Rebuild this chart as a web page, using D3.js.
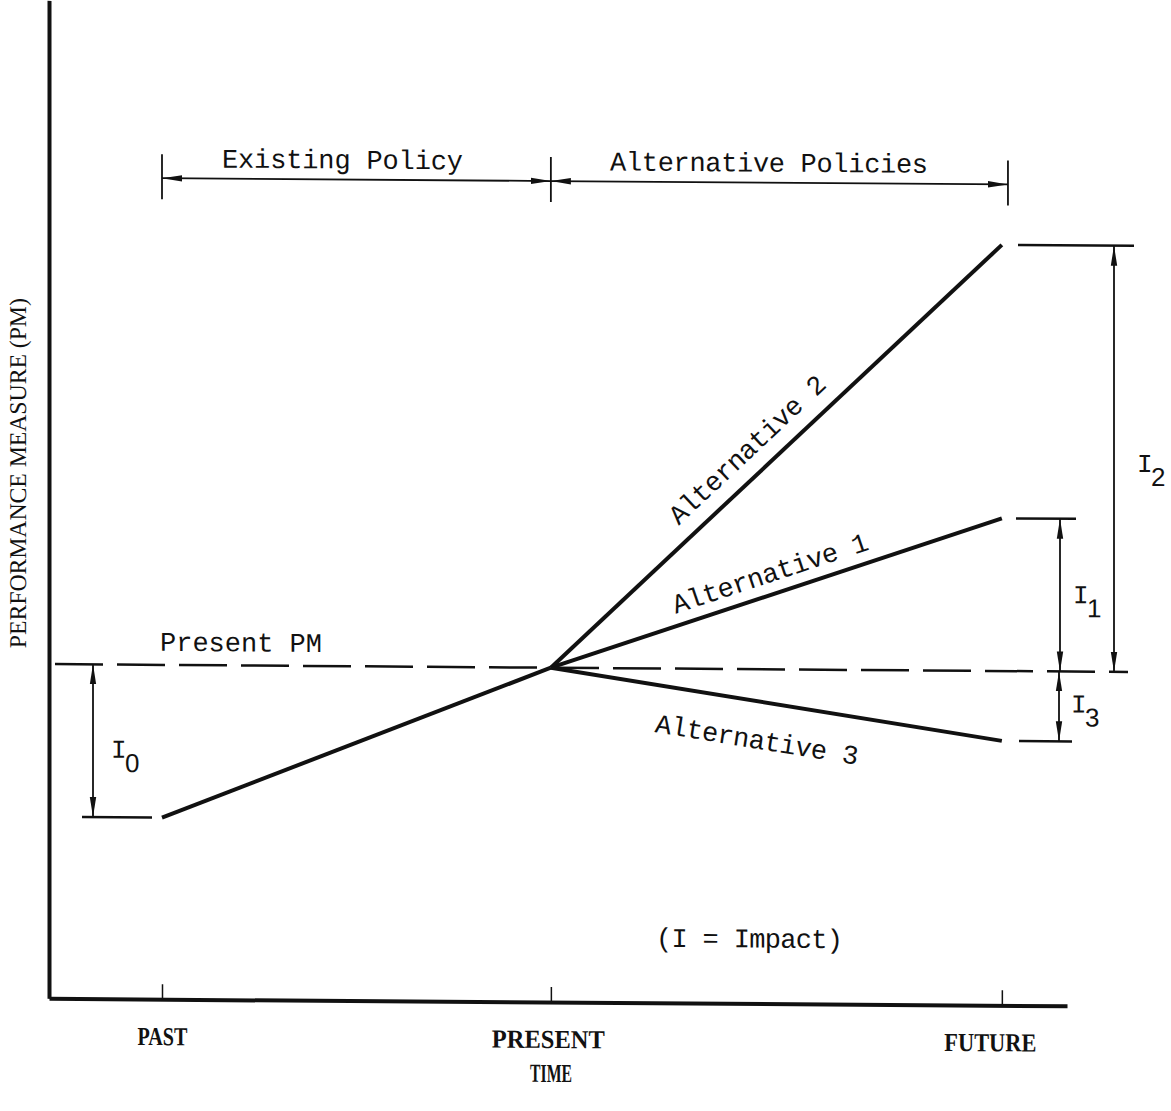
<!DOCTYPE html>
<html lang="en">
<head>
<meta charset="UTF-8">
<script src="https://d3js.org/d3.v7.min.js"></script>
<title>Policy impact</title>
<style>
  body { margin: 0; background: #fff; }
  .mono { font-family: "Liberation Mono", "DejaVu Sans Mono", monospace; fill: #111; }
  .serif { font-family: "Liberation Serif", "DejaVu Serif", serif; fill: #111; }
  .sans { font-family: "Liberation Sans", "DejaVu Sans", sans-serif; fill: #111; }
</style>
</head>
<body>
<svg id="chart" width="1171" height="1111"></svg>
<script>
// time axis (positions on a 0-100 time scale)
const timeLabels = ["PAST", "PRESENT", "FUTURE"];
const timePos = [11.1, 49.3, 93.6];

// performance measure values (0-100)
const pastPM = 18.2;
const presentPM = 33.5;
const altNames = ["Alternative 1", "Alternative 2", "Alternative 3"];
const altPM = [48.8, 76.2, 26.5];

// impact labels: I0 = existing policy, I1..I3 = alternatives
const impactNames = ["0", "1", "2", "3"];

const svg = d3.select("#chart");
const ink = "#111";

// scanned page is slightly skewed, horizontals drop to the right
const g = svg.append("g").attr("transform", "skewY(0.42)");

const x = d3.scaleLinear().domain([0, 100]).range([49, 1067]);
const y = d3.scaleLinear().domain([0, 100]).range([998, 0]);

const defs = svg.append("defs");
defs.append("marker")
    .attr("id", "arr")
    .attr("viewBox", "0 -4 20 8")
    .attr("refX", 20).attr("refY", 0)
    .attr("markerWidth", 20).attr("markerHeight", 8)
    .attr("markerUnits", "userSpaceOnUse")
    .attr("orient", "auto-start-reverse")
    .append("path").attr("d", "M0,-3.2L20,0L0,3.2Z").attr("fill", ink);

// axes
const xAxis = g.append("g").attr("transform", `translate(0,${y(0)})`)
    .call(d3.axisBottom(x).tickValues(timePos).tickSizeInner(-15).tickSizeOuter(0)
        .tickFormat((d, i) => timeLabels[i]));
xAxis.select(".domain").attr("stroke", ink).attr("stroke-width", 4);
xAxis.selectAll(".tick line").attr("stroke", ink).attr("stroke-width", 1.5);
const labelShift = [0, -3, -12];
const labelWidth = [50, 113, 92];
xAxis.selectAll(".tick text")
    .attr("class", "serif")
    .attr("font-size", 26).attr("font-weight", "bold")
    .attr("dy", null).attr("y", 46)
    .attr("x", (d, i) => labelShift[i])
    .attr("textLength", (d, i) => labelWidth[i])
    .attr("lengthAdjust", "spacingAndGlyphs");

const yAxis = g.append("g").attr("transform", `translate(${x(0)},0)`)
    .call(d3.axisLeft(y).tickValues([]).tickSizeOuter(0));
yAxis.select(".domain").attr("stroke", ink).attr("stroke-width", 4);

g.append("text").attr("class", "serif")
    .attr("x", 551).attr("y", 1078).attr("text-anchor", "middle")
    .attr("font-size", 26).attr("font-weight", "bold")
    .attr("textLength", 42).attr("lengthAdjust", "spacingAndGlyphs")
    .text("TIME");

g.append("text").attr("class", "serif")
    .attr("transform", "translate(26,473) rotate(-90)")
    .attr("text-anchor", "middle").attr("font-size", 24)
    .attr("textLength", 350).attr("lengthAdjust", "spacingAndGlyphs")
    .text("PERFORMANCE MEASURE (PM)");

// present PM dashed reference
g.append("line")
    .attr("x1", 55).attr("x2", 1128)
    .attr("y1", y(presentPM)).attr("y2", y(presentPM))
    .attr("stroke", ink).attr("stroke-width", 2.5)
    .attr("stroke-dasharray", "48,14");
g.append("text").attr("class", "mono")
    .attr("x", 160).attr("y", y(presentPM) - 14)
    .attr("font-size", 27).attr("textLength", 162)
    .text("Present PM");

// policy span dimension lines
const spanY = 177;
const spans = [
    { label: "Existing Policy", from: timePos[0], to: timePos[1], tx: 222, w: 241 },
    { label: "Alternative Policies", from: timePos[1], to: 94.2, tx: 610, w: 318 }
];
const spanTicks = [timePos[0], timePos[1], 94.2];
g.selectAll("line.spantick").data(spanTicks).join("line")
    .attr("class", "spantick")
    .attr("x1", d => x(d)).attr("x2", d => x(d))
    .attr("y1", spanY - 24).attr("y2", spanY + 21)
    .attr("stroke", ink).attr("stroke-width", 1.8);
g.selectAll("line.span").data(spans).join("line")
    .attr("class", "span")
    .attr("x1", d => x(d.from)).attr("x2", d => x(d.to))
    .attr("y1", spanY).attr("y2", spanY)
    .attr("stroke", ink).attr("stroke-width", 1.8)
    .attr("marker-start", "url(#arr)").attr("marker-end", "url(#arr)");
g.selectAll("text.span").data(spans).join("text")
    .attr("class", "span mono")
    .attr("x", d => d.tx).attr("y", spanY - 11)
    .attr("font-size", 27)
    .attr("textLength", d => d.w)
    .text(d => d.label);

// existing policy trend
const line = d3.line().x(d => x(d[0])).y(d => y(d[1]));
g.append("path")
    .attr("d", line([[timePos[0], pastPM], [timePos[1], presentPM]]))
    .attr("fill", "none").attr("stroke", ink).attr("stroke-width", 4);

// alternatives
const alts = altNames.map((name, i) => ({ name, pm: altPM[i] }));
g.selectAll("path.alt").data(alts).join("path")
    .attr("class", "alt")
    .attr("d", d => line([[timePos[1], presentPM], [timePos[2], d.pm]]))
    .attr("fill", "none").attr("stroke", ink).attr("stroke-width", 4);

// label placement along each alternative line: distance, offset above line
const altLabelPos = [[136, 12], [191, 16], [112, -47]];
g.selectAll("text.alt").data(alts).join("text")
    .attr("class", "alt mono")
    .attr("font-size", 27).attr("textLength", 205)
    .attr("transform", (d, i) => {
        const x0 = x(timePos[1]), y0 = y(presentPM);
        const dx = x(timePos[2]) - x0, dy = y(d.pm) - y0;
        const len = Math.hypot(dx, dy), ux = dx / len, uy = dy / len;
        const [dist, off] = altLabelPos[i];
        const px = x0 + ux * dist + uy * off, py = y0 + uy * dist - ux * off;
        return `translate(${px},${py}) rotate(${Math.atan2(dy, dx) * 180 / Math.PI})`;
    })
    .text(d => d.name);

// short reference ticks at the end values
const refs = [
    { pm: pastPM, x1: 82, x2: 152 },
    { pm: altPM[1], x1: 1018, x2: 1134 },
    { pm: altPM[0], x1: 1016, x2: 1076 },
    { pm: altPM[2], x1: 1019, x2: 1072 }
];
g.selectAll("line.ref").data(refs).join("line")
    .attr("class", "ref")
    .attr("x1", d => d.x1).attr("x2", d => d.x2)
    .attr("y1", d => y(d.pm)).attr("y2", d => y(d.pm))
    .attr("stroke", ink).attr("stroke-width", 2.5);

// impact arrows
const impacts = [
    { name: impactNames[0], a: pastPM, b: presentPM, ax: 93, lx: 18, ly: 17 },
    { name: impactNames[1], a: altPM[0], b: presentPM, ax: 1060, lx: 13, ly: 8 },
    { name: impactNames[2], a: altPM[1], b: presentPM, ax: 1114, lx: 23, ly: 13 },
    { name: impactNames[3], a: altPM[2], b: presentPM, ax: 1059, lx: 12, ly: 6 }
];
g.selectAll("line.imp").data(impacts).join("line")
    .attr("class", "imp")
    .attr("x1", d => d.ax).attr("x2", d => d.ax)
    .attr("y1", d => y(d.a)).attr("y2", d => y(d.b))
    .attr("stroke", ink).attr("stroke-width", 1.8)
    .attr("marker-start", "url(#arr)").attr("marker-end", "url(#arr)");
const impLabel = g.selectAll("g.implabel").data(impacts).join("g")
    .attr("class", "implabel")
    .attr("transform", d => `translate(${d.ax + d.lx},${(y(d.a) + y(d.b)) / 2 + d.ly})`);
impLabel.append("text").attr("class", "mono")
    .attr("font-size", 26).text("I");
impLabel.append("text").attr("class", "sans")
    .attr("x", 14).attr("y", 14).attr("font-size", 26).text(d => d.name);

g.append("text").attr("class", "mono")
    .attr("x", 656).attr("y", 942)
    .attr("font-size", 27).attr("textLength", 187)
    .text("(I = Impact)");
</script>
</body>
</html>
